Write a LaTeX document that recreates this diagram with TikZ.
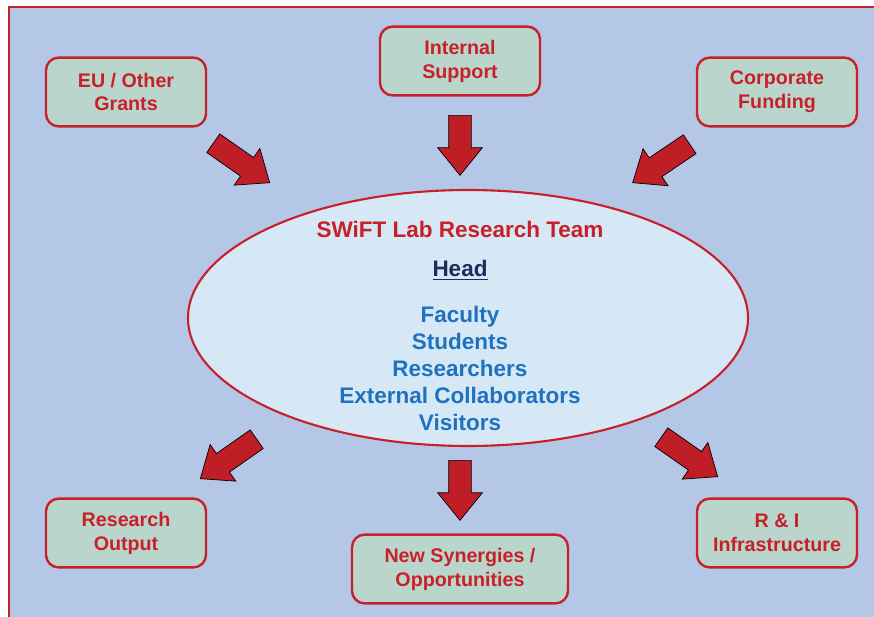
\documentclass[tikz,border=0pt]{standalone}
\usepackage{fontspec}
\setmainfont{Liberation Sans}
\usepackage{xcolor}
\definecolor{lbblue}{RGB}{180,199,231}
\definecolor{lbgreen}{RGB}{185,213,204}
\definecolor{lbred}{RGB}{200,32,40}
\definecolor{lbarrow}{RGB}{192,30,38}
\definecolor{lbpale}{RGB}{214,231,246}
\definecolor{lbmember}{RGB}{31,114,190}
\definecolor{lbnavy}{RGB}{31,43,94}
\usetikzlibrary{shapes.geometric,shapes.arrows}
\tikzset{
  labbox/.style={draw=lbred, line width=1.7pt, rounded corners=9pt, fill=lbgreen,
                 text=lbred, font=\fontsize{14}{17}\selectfont\bfseries, align=center,
                 minimum width=4cm, minimum height=1.72cm, inner sep=2pt},
  team/.style={draw=lbred, line width=1.5pt, fill=lbpale, ellipse,
               minimum width=14cm, minimum height=6.4cm, inner sep=0pt},
  teamtext/.style={font=\fontsize{16}{19.2}\selectfont\bfseries, text=#1, align=center,
                   inner sep=0pt},
  flow/.style={single arrow, draw=black, line width=0.5pt, fill=lbarrow, anchor=tail,
               minimum height=#1, inner xsep=0pt, inner ysep=0.275cm,
               single arrow head extend=0.275cm, single arrow tip angle=78},
}

\begin{document}
\begin{tikzpicture}
\useasboundingbox (0,0) rectangle (21.85,15.4);

% background panel
\draw[draw=lbred, line width=1.4pt, fill=lbblue] (0.225,-1) rectangle (23,15.225);

% Inputs
\node[labbox] (grants) at (3.15,13.1) {EU / Other\\Grants};
\node[labbox] (internal) at (11.5,13.875) {Internal\\Support};
\node[labbox] (corporate) at (19.425,13.1) {Corporate\\Funding};

% The team
\node[team] (lab) at (11.7,7.45) {};
\node[teamtext=lbred] (title) at (11.5,9.675) {SWiFT Lab Research Team};
\node[teamtext=lbnavy] (head) at (11.5,8.65) {\underline{Head}};
\node[teamtext=lbmember] (members) at (11.5,6.2)
     {Faculty\\Students\\Researchers\\External Collaborators\\Visitors};

% Outputs
\node[labbox] (output) at (3.15,2.075) {Research\\Output};
\node[labbox, minimum width=5.4cm] (synergies) at (11.5,1.175) {New Synergies /\\Opportunities};
\node[labbox] (infra) at (19.425,2.075) {R \& I\\Infrastructure};

% Block arrows in (placed by their tails)
\node[flow=1.72cm, rotate=-35] (ingrants) at (5.325,11.825) {};
\node[flow=1.5cm, rotate=-90] (ininternal) at (11.5,12.525) {};
\node[flow=1.72cm, rotate=-146] (incorporate) at (17.25,11.8) {};

% Block arrows out
\node[flow=1.72cm, rotate=-145] (tooutput) at (6.425,4.425) {};
\node[flow=1.5cm, rotate=-90] (tosynergies) at (11.5,3.9) {};
\node[flow=1.72cm, rotate=-35] (toinfra) at (16.525,4.475) {};

\end{tikzpicture}
\end{document}
